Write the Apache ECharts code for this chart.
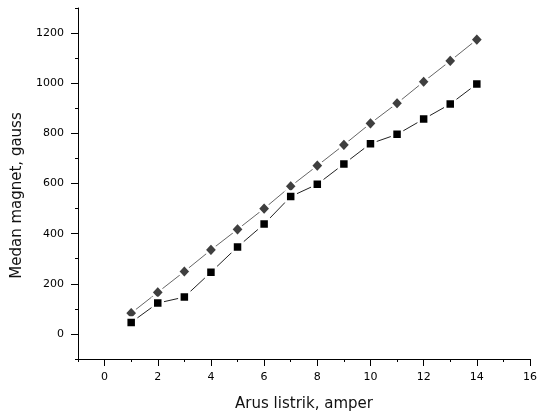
<!DOCTYPE html>
<html>
<head>
<meta charset="utf-8">
<script src="https://cdn.jsdelivr.net/npm/echarts@6/dist/echarts.min.js"></script>
<style>html,body{margin:0;padding:0;background:#fff}#c{width:540px;height:417px}</style>
</head>
<body>
<div id="c"></div>
<script>
var current = [1,2,3,4,5,6,7,8,9,10,11,12,13,14];
var diamondSeries = [83,166,249,335,417,500,589,671,754,840,920,1006,1089,1174];
var squareSeries = [46,123,147,246,347,438,548,597,678,759,796,857,917,997];
var xMajorTicks = [0,2,4,6,8,10,12,14,16];
var xMinorTicks = [-1,1,3,5,7,9,11,13,15];
var yMajorTicks = [0,200,400,600,800,1000,1200];
var yMinorTicks = [-100,100,300,500,700,900,1100,1300];

function pairs(xs, ys){ return xs.map(function(x,i){ return [x, ys[i]]; }); }
function plain(v){ return String(v); }

var font = 'DejaVu Sans';
var chart = echarts.init(document.getElementById('c'), null, {renderer:'canvas'});
var axisLine = {show:true, onZero:false, lineStyle:{color:'#000', width:1}};
chart.setOption({
  animation:false,
  backgroundColor:'#fff',
  grid:{left:78, right:7, top:8, bottom:57, containLabel:false},
  xAxis:[{
    type:'value', min:-1, max:16, interval:1,
    name:'Arus listrik, amper', nameLocation:'middle', nameGap:38,
    nameTextStyle:{fontFamily:font, fontSize:15, color:'#111'},
    axisLine:axisLine,
    axisTick:{show:true, inside:false, length:7, customValues:xMajorTicks, lineStyle:{color:'#000'}},
    axisLabel:{show:true, customValues:xMajorTicks, formatter:plain, margin:13, fontFamily:font, fontSize:11, color:'#000'},
    splitLine:{show:false}
  },{
    type:'value', min:-1, max:16, interval:1, position:'bottom',
    axisLine:{show:false, onZero:false},
    axisTick:{show:true, length:3, customValues:xMinorTicks, lineStyle:{color:'#000'}},
    axisLabel:{show:false},
    splitLine:{show:false}
  }],
  yAxis:[{
    type:'value', min:-100, max:1300, interval:100,
    name:'Medan magnet, gauss', nameLocation:'middle', nameGap:50,
    nameTextStyle:{fontFamily:font, fontSize:15, color:'#111', padding:[0,24,0,0]},
    axisLine:axisLine,
    axisTick:{show:true, length:7, customValues:yMajorTicks, lineStyle:{color:'#000'}},
    axisLabel:{show:true, customValues:yMajorTicks, formatter:plain, margin:14, fontFamily:font, fontSize:11, color:'#000'},
    splitLine:{show:false}
  },{
    type:'value', min:-100, max:1300, interval:100, position:'left',
    axisLine:{show:false, onZero:false},
    axisTick:{show:true, length:3, customValues:yMinorTicks, lineStyle:{color:'#000'}},
    axisLabel:{show:false},
    splitLine:{show:false}
  }],
  series:[{
    type:'line', xAxisIndex:0, yAxisIndex:0,
    data:pairs(current, diamondSeries),
    symbol:'diamond', symbolSize:[13,14],
    lineStyle:{color:'#666', width:1},
    itemStyle:{color:'#3f3f3f', borderColor:'#fff', borderWidth:2.5},
    z:3
  },{
    type:'line', xAxisIndex:0, yAxisIndex:0,
    data:pairs(current, squareSeries),
    symbol:'rect', symbolSize:10,
    lineStyle:{color:'#222', width:1},
    itemStyle:{color:'#000', borderColor:'#fff', borderWidth:2.5},
    z:3
  }]
});
</script>
</body>
</html>
